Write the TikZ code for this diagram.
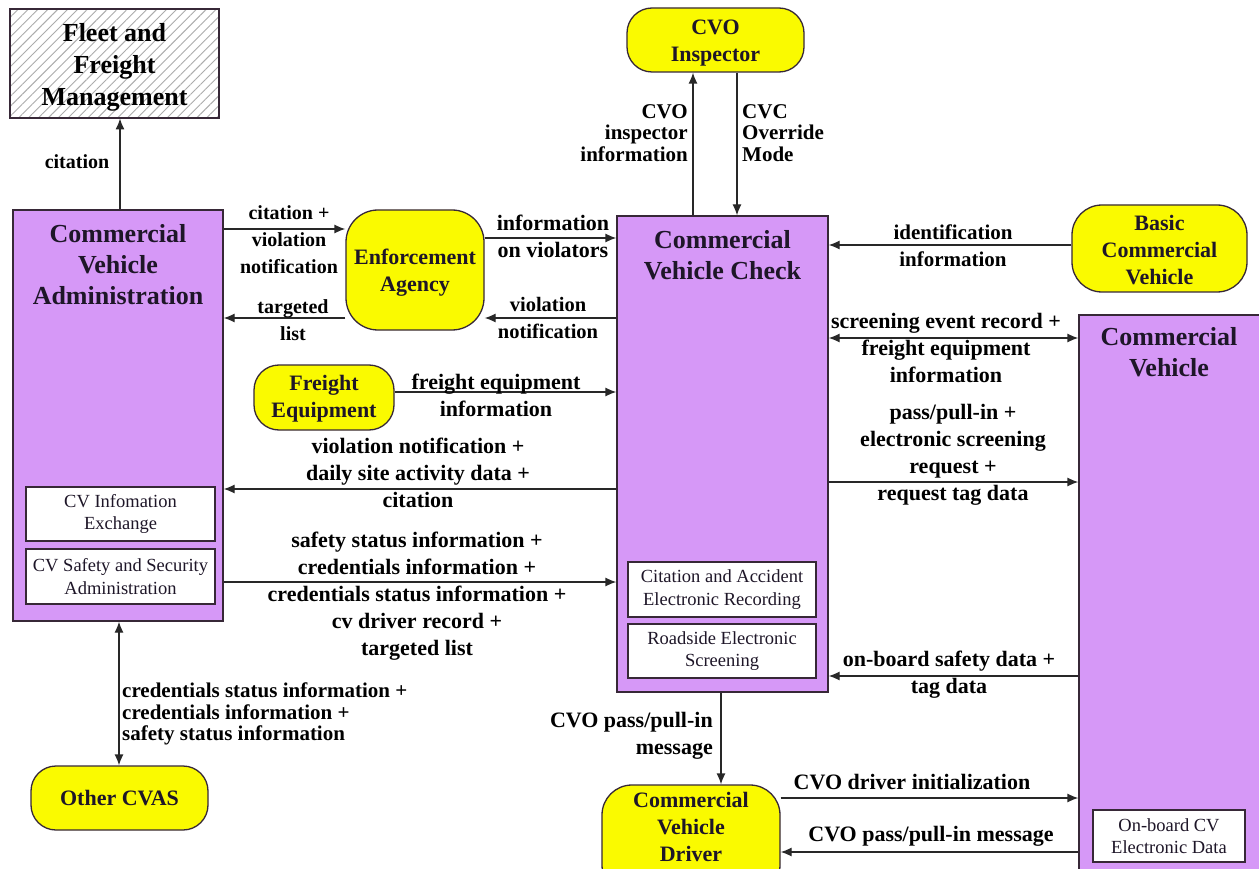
\documentclass[tikz,border=0pt]{standalone}
\usepackage{fontspec}
\setmainfont{Liberation Serif}
\usetikzlibrary{arrows.meta,patterns.meta}
\definecolor{vio}{RGB}{214,152,247}
\definecolor{yel}{RGB}{250,250,0}
\definecolor{bord}{RGB}{55,40,55}
\definecolor{ink}{RGB}{30,22,40}
\definecolor{arrc}{RGB}{40,40,40}
\tikzset{
 vbox/.style={draw=bord, line width=1.3pt, fill=vio, rectangle, inner sep=0},
 ybox/.style={draw=bord, line width=1.3pt, fill=yel, rounded corners=#1, inner sep=0, font=\bfseries\fontsize{22}{27}\selectfont, text=ink, align=center},
 ybox/.default=25pt,
 ytxt/.style={font=\bfseries\fontsize{22}{27}\selectfont, text=ink, align=center, inner sep=0, anchor=center},
 wbox/.style={draw=bord, line width=1.1pt, fill=white, inner sep=0, minimum width=189pt, font=\fontsize{18.5}{22.5}\selectfont, align=center, text=ink},
 ttl/.style={font=\bfseries\fontsize{26}{31}\selectfont, text=ink, align=center, inner sep=0},
 lbl/.style={font=\bfseries\fontsize{#1}{27}\selectfont, text=black, align=center, inner sep=0},
 lbl/.default=22,
 lbt/.style={font=\bfseries\fontsize{21}{21.5}\selectfont, text=black, inner sep=0},
 arr/.style={draw=arrc, line width=1.3pt, -{Latex[length=11pt,width=9pt]}},
 darr/.style={draw=arrc, line width=1.3pt, {Latex[length=11pt,width=9pt]}-{Latex[length=11pt,width=9pt]}},
}
\begin{document}
\begin{tikzpicture}[x=1pt,y=-1pt]
\clip (0,0) rectangle (1259,869);
\fill[white] (0,0) rectangle (1259,869);

% boxes
\node[draw=bord, line width=1.3pt, pattern={Lines[angle=45,distance=7pt,line width=0.9pt]}, pattern color=gray!65, minimum width=209pt, minimum height=109pt, inner sep=0,
  label={[font=\bfseries\fontsize{26}{32}\selectfont, text=black, align=center, inner sep=0, anchor=center, yshift=-58.5pt]north:Fleet and\\Freight\\Management}] (fleet) at (114.5,63.5) {};

\node[vbox, minimum width=210pt, minimum height=411pt, label={[ttl,anchor=north,yshift=-15pt]north:Commercial\\Vehicle\\Administration}] (cva) at (118,415.5) {};
\node[wbox, minimum height=54pt] (cvinfo) at (120.5,514) {CV Infomation\\Exchange};
\node[wbox, minimum height=55pt] (cvsafe) at (120.5,576.5) {CV Safety and Security\\Administration};

\node[ybox=32pt, minimum width=138pt, minimum height=120pt, label={[ytxt,yshift=-63pt]north:Enforcement\\Agency}] (ea) at (415,270) {};

\node[vbox, minimum width=211pt, minimum height=476pt, label={[ttl,anchor=north,yshift=-15pt]north:Commercial\\Vehicle Check}] (cvc) at (722.5,454) {};
\node[wbox, minimum width=188pt, minimum height=55pt] (cvccit) at (722,589.5) {Citation and Accident\\Electronic Recording};
\node[wbox, minimum width=188pt, minimum height=54pt] (cvcroad) at (722,651) {Roadside Electronic\\Screening};

\node[ybox=25pt, minimum width=177pt, minimum height=64pt, label={[ytxt,yshift=-36pt]north:CVO\\Inspector}] (cvo) at (715.5,40) {};
\node[ybox=30pt, minimum width=175pt, minimum height=87pt, label={[ytxt,yshift=-45.5pt]north:Basic\\Commercial\\Vehicle}] (bcv) at (1159.5,248.5) {};

\node[vbox, minimum width=200pt, minimum height=600pt, label={[ttl,anchor=north,xshift=-10pt,yshift=-13pt]north:Commercial\\Vehicle}] (cv) at (1179,615) {};
\node[wbox, minimum width=152pt, minimum height=52pt] (onb) at (1169,836) {On-board CV\\Electronic Data};

\node[ybox=25pt, minimum width=140pt, minimum height=65pt, label={[ytxt,yshift=-34.5pt]north:Freight\\Equipment}] (fe) at (324,397.5) {};
\node[ybox=25pt, minimum width=177pt, minimum height=64pt] (other) at (119.5,798) {Other CVAS};
\node[ybox=30pt, minimum width=178pt, minimum height=110pt, label={[ytxt,yshift=-43pt]north:Commercial\\Vehicle\\Driver}] (driver) at (691,840) {};

% connectors
\draw[arr] (cva.north -| 120,0) -- (fleet.south -| 120,0);
\draw[arr] (cva.east |- 0,229) -- (ea.west |- 0,229);
\draw[arr] (ea.west |- 0,318) -- (cva.east |- 0,318);
\draw[arr] (ea.east |- 0,238) -- (cvc.west |- 0,238);
\draw[arr] (cvc.west |- 0,318) -- (ea.east |- 0,318);
\draw[arr] (cvc.north -| 693,0) -- (cvo.south -| 693,0);
\draw[arr] (cvo.south -| 737,0) -- (cvc.north -| 737,0);
\draw[arr] (bcv.west |- 0,245) -- (cvc.east |- 0,245);
\draw[darr] (cvc.east |- 0,338) -- (cv.west |- 0,338);
\draw[arr] (cvc.east |- 0,482) -- (cv.west |- 0,482);
\draw[arr] (cv.west |- 0,676) -- (cvc.east |- 0,676);
\draw[arr] (fe.east |- 0,392) -- (cvc.west |- 0,392);
\draw[arr] (cvc.west |- 0,489) -- (cva.east |- 0,489);
\draw[arr] (cva.east |- 0,582) -- (cvc.west |- 0,582);
\draw[darr] (cva.south -| 119,0) -- (other.north -| 119,0);
\draw[arr] (cvc.south -| 721,0) -- (driver.north -| 721,0);
\draw[arr] (driver.east |- 0,798) -- (cv.west |- 0,798);
\draw[arr] (cv.west |- 0,852) -- (driver.east |- 0,852);

% labels
\node[lbl=20] (lcit) at (77,162) {citation};
\node[lbl=20] (l1) at (289,240) {citation +\\violation\\notification};
\node[lbl=20] (l2) at (293,320) {targeted\\list};
\node[lbl] (l3) at (553,236) {information\\on violators};
\node[lbl=20.5] (l4) at (548,318) {violation\\notification};
\node[lbt, align=right, anchor=east] (l5) at (688,133) {CVO\\inspector\\information};
\node[lbt, align=left, anchor=west] (l6) at (742,133) {CVC\\Override\\Mode};
\node[lbl=21] (l7) at (953,246) {identification\\information};
\node[lbl] (l8) at (946,348) {screening event record +\\freight equipment\\information};
\node[lbl] (l9) at (953,455) {pass/pull-in +\\electronic screening\\request +\\request tag data};
\node[lbl] (l10) at (949,675) {on-board safety data +\\tag data};
\node[lbl] (l11) at (496,395) {freight equipment\\information};
\node[lbl] (l12) at (418,473) {violation notification +\\daily site activity data +\\citation};
\node[lbl] (l13) at (417,596) {safety status information +\\credentials information +\\credentials status information +\\cv driver record +\\targeted list};
\node[lbt, align=left, anchor=west] (l14) at (122,714) {credentials status information +\\credentials information +\\safety status information};
\node[lbl, align=right, anchor=east] (l15) at (713,736) {CVO pass/pull-in\\message};
\node[lbl] (l16) at (912,782) {CVO driver initialization};
\node[lbl] (l17) at (931,836) {CVO pass/pull-in message};
\end{tikzpicture}
\end{document}
